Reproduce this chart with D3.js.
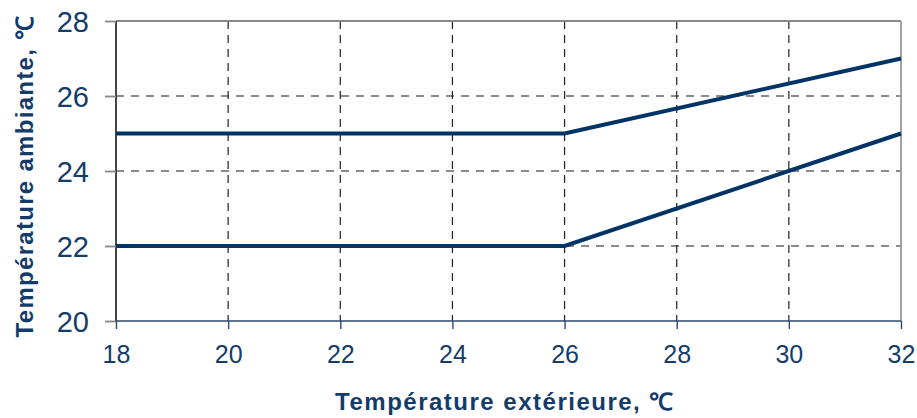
<!DOCTYPE html>
<html><head><meta charset="utf-8">
<script src="https://cdn.jsdelivr.net/npm/d3@7"></script>
<style>html,body{margin:0;padding:0;background:#fff}svg{display:block}</style>
</head><body>
<svg id="c" width="917" height="418"></svg>
<script>
const xTicks = [18, 20, 22, 24, 26, 28, 30, 32];
const yTicks = [20, 22, 24, 26, 28];
const outdoor = [18, 26, 32];
const upperLimit = [25, 25, 27];
const lowerLimit = [22, 22, 25];
const xTitle = "Température extérieure, ℃";
const yTitle = "Température ambiante, ℃";

const svg = d3.select("#c");
const L = 116, R = 901, T = 21, B = 321;
const x = d3.scaleLinear().domain([18, 32]).range([L, R]);
const y = d3.scaleLinear().domain([20, 28]).range([B, T]);
const textCol = "#143c6a", lineCol = "#003366";
const font = "'Liberation Sans', Arial, sans-serif";

// horizontal gridlines
svg.append("g").selectAll("line").data(yTicks.filter(d => d > 20 && d < 28)).join("line")
  .attr("x1", L).attr("x2", R).attr("y1", d => y(d)).attr("y2", d => y(d))
  .attr("stroke", "#666").attr("stroke-width", 1.3).attr("stroke-dasharray", "8,7");
// vertical gridlines
svg.append("g").selectAll("line").data(xTicks.filter(d => d > 18 && d < 32)).join("line")
  .attr("x1", d => x(d)).attr("x2", d => x(d)).attr("y1", T).attr("y2", B)
  .attr("stroke", "#222").attr("stroke-width", 1.2).attr("stroke-dasharray", "8,6");

// frame top & right
svg.append("line").attr("x1", L).attr("x2", R).attr("y1", T).attr("y2", T).attr("stroke", "#888").attr("stroke-width", 1.8);
svg.append("line").attr("x1", R).attr("x2", R).attr("y1", T).attr("y2", B).attr("stroke", "#999").attr("stroke-width", 1.8);

// y axis
const yAxis = svg.append("g").attr("transform", `translate(${L},0)`)
  .call(d3.axisLeft(y).tickValues(yTicks).tickSize(11).tickPadding(16).tickFormat(d3.format("d")));
yAxis.select(".domain").attr("stroke", "#333").attr("stroke-width", 1.8).attr("d", `M0,${T}V${B}`);
yAxis.selectAll(".tick line").attr("stroke", "#888").attr("stroke-width", 1.8);
yAxis.selectAll(".tick text").attr("fill", textCol).attr("font-size", 29).attr("font-family", font).attr("dy", "0.35em");

// x axis
const xAxis = svg.append("g").attr("transform", `translate(0,${B})`)
  .call(d3.axisBottom(x).tickValues(xTicks).tickSize(8).tickPadding(16).tickFormat(d3.format("d")));
xAxis.select(".domain").attr("stroke", "#2b4a6e").attr("stroke-width", 1.6).attr("d", `M${L},0H${R}`);
xAxis.selectAll(".tick line").attr("stroke", "#2b4a6e").attr("stroke-width", 1.4);
xAxis.selectAll(".tick text").attr("fill", textCol).attr("font-size", 25).attr("font-family", font);

// series
const line = d3.line().x(d => x(d[0])).y(d => y(d[1]));
[upperLimit, lowerLimit].forEach(vals => {
  svg.append("path").datum(outdoor.map((o, i) => [o, vals[i]]))
    .attr("d", line).attr("fill", "none").attr("stroke", lineCol).attr("stroke-width", 4);
});

// titles
svg.append("text").attr("x", 505).attr("y", 410).attr("text-anchor", "middle")
  .attr("font-family", font).attr("font-weight", "bold").attr("font-size", 24).attr("letter-spacing", "1.5px")
  .attr("fill", textCol).text(xTitle);
svg.append("text").attr("transform", "translate(33,176) rotate(-90)").attr("text-anchor", "middle")
  .attr("font-family", font).attr("font-weight", "bold").attr("font-size", 24).attr("letter-spacing", "1.3px")
  .attr("fill", textCol).text(yTitle);
</script>
</body></html>
